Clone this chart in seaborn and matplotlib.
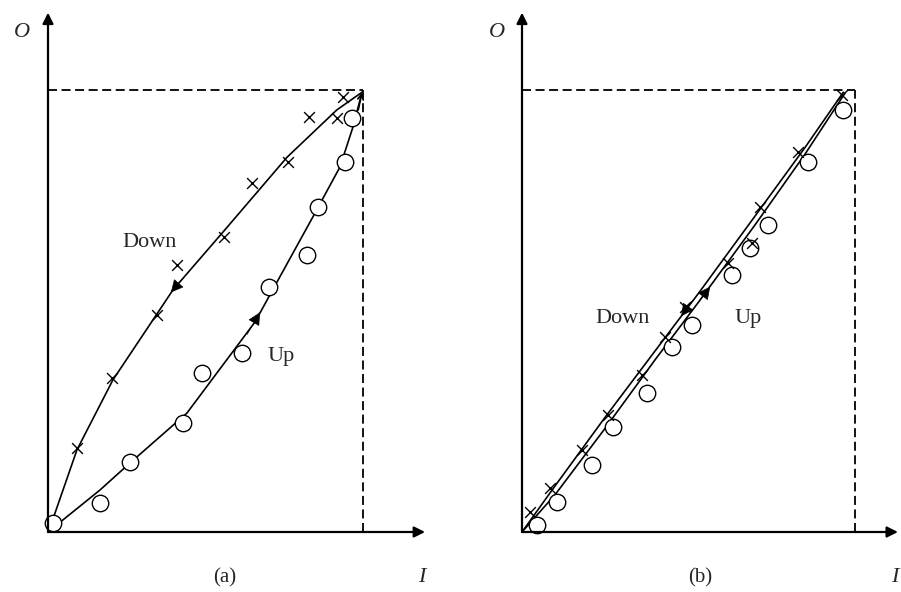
import numpy as np
import pandas as pd
import matplotlib
matplotlib.use("Agg")
import matplotlib.pyplot as plt
import seaborn as sns

# ---- panel (a): clear hysteresis ----
a_up_x = [0.016, 0.165, 0.260, 0.429, 0.489, 0.616, 0.702, 0.822, 0.857, 0.943, 0.965]
a_up_y = [0.020, 0.066, 0.158, 0.247, 0.360, 0.405, 0.554, 0.627, 0.735, 0.837, 0.937]
a_down_x = [0.937, 0.917, 0.829, 0.762, 0.648, 0.559, 0.410, 0.346, 0.203, 0.092]
a_down_y = [0.984, 0.937, 0.939, 0.837, 0.790, 0.667, 0.604, 0.491, 0.348, 0.190]
# fitted curves as drawn
a_upline_x = [0.0, 0.165, 0.260, 0.441, 0.657, 0.841, 0.927, 0.968, 0.997]
a_upline_y = [0.0, 0.095, 0.156, 0.269, 0.475, 0.713, 0.826, 0.916, 0.995]
a_downline_x = [0.997, 0.917, 0.759, 0.556, 0.397, 0.206, 0.092, 0.016, 0.0]
a_downline_y = [0.995, 0.955, 0.848, 0.679, 0.548, 0.344, 0.186, 0.030, 0.0]

# ---- panel (b): almost no hysteresis ----
b_up_x = [0.045, 0.105, 0.210, 0.273, 0.375, 0.450, 0.511, 0.631, 0.685, 0.739, 0.859, 0.964]
b_up_y = [0.016, 0.068, 0.152, 0.238, 0.314, 0.419, 0.468, 0.581, 0.643, 0.695, 0.837, 0.955]
b_down_x = [0.024, 0.084, 0.180, 0.258, 0.360, 0.429, 0.489, 0.619, 0.691, 0.715, 0.829, 0.961]
b_down_y = [0.045, 0.100, 0.186, 0.265, 0.355, 0.441, 0.509, 0.609, 0.654, 0.735, 0.860, 0.989]
b_upline_x = [0.0, 0.10, 0.25, 0.40, 0.53, 0.70, 0.85, 0.97]
b_upline_y = [0.0, 0.085, 0.235, 0.39, 0.52, 0.695, 0.855, 0.993]
b_downline_x = [0.965, 0.85, 0.70, 0.53, 0.40, 0.25, 0.10, 0.0]
b_downline_y = [0.995, 0.87, 0.715, 0.54, 0.41, 0.26, 0.105, 0.0]

sns.set_style("white")
plt.rcParams["font.family"] = ["Liberation Serif", "DejaVu Serif"]

fig = plt.figure(figsize=(9.01, 5.92), dpi=100)
W, H = 901, 592
ax_a = fig.add_axes([48 / W, 60 / H, 315 / W, 442 / H])
ax_b = fig.add_axes([522 / W, 60 / H, 333 / W, 442 / H])


def draw_panel(ax, upline, downline, up_pts, down_pts, xtip, tag, labels, arrows, ox, tagx):
    ax.set_xlim(0, 1)
    ax.set_ylim(0, 1)
    ax.axis("off")
    up_df = pd.DataFrame({"x": upline[0], "y": upline[1]})
    dn_df = pd.DataFrame({"x": downline[0], "y": downline[1]})
    sns.lineplot(data=up_df, x="x", y="y", sort=False, estimator=None,
                 color="black", lw=1.2, ax=ax)
    sns.lineplot(data=dn_df, x="x", y="y", sort=False, estimator=None,
                 color="black", lw=1.2, ax=ax)
    sns.scatterplot(x=up_pts[0], y=up_pts[1], marker="o", s=140,
                    facecolor="white", edgecolor="black", linewidth=1.0,
                    ax=ax, zorder=3, clip_on=False)
    sns.scatterplot(x=down_pts[0], y=down_pts[1], marker="x", s=60,
                    color="black", linewidth=1.0, ax=ax, zorder=4, clip_on=False)

    # dashed guide lines to the max point
    ax.plot([0, 1], [1, 1], ls=(0, (5, 2.5)), color="black", lw=1.3, clip_on=False)
    ax.plot([1, 1], [0, 1], ls=(0, (5, 2.5)), color="black", lw=1.3, clip_on=False)

    # axes with arrows
    ax.annotate("", xy=(0, 1.175), xytext=(0, 0), annotation_clip=False,
                arrowprops=dict(arrowstyle="-|>", color="black", lw=1.6,
                                mutation_scale=16, shrinkA=0, shrinkB=0))
    ax.annotate("", xy=(xtip, 0), xytext=(0, 0), annotation_clip=False,
                arrowprops=dict(arrowstyle="-|>", color="black", lw=1.6,
                                mutation_scale=16, shrinkA=0, shrinkB=0))

    # direction arrows on curves
    for tail, tip, style in arrows:
        ax.annotate("", xy=tip, xytext=tail, annotation_clip=False,
                    arrowprops=dict(arrowstyle=style, color="black",
                                    lw=0.5 if style == "-|>" else 1.2,
                                    mutation_scale=20 if style == "-|>" else 10,
                                    shrinkA=0, shrinkB=0))

    ax.text(ox, 1.13, "O", style="italic", fontsize=16, ha="center", va="center")
    ax.text(xtip - 0.01, -0.104, "I", style="italic", fontsize=16, ha="center", va="center")
    ax.text(tagx, -0.104, tag, fontsize=15, ha="center", va="center")
    for txt, pos in labels:
        ax.text(pos[0], pos[1], txt, fontsize=16, ha="center", va="center")


draw_panel(ax_a, (a_upline_x, a_upline_y), (a_downline_x, a_downline_y),
           (a_up_x, a_up_y), (a_down_x, a_down_y), 1.197, "(a)",
           [("Down", (0.324, 0.656)), ("Up", (0.74, 0.396))],
           [((0.632, 0.447), (0.673, 0.497), "-|>"),
            ((0.43, 0.575), (0.39, 0.542), "-|>"),
            ((0.985, 0.955), (0.997, 0.995), "->")],
           -0.083, 0.56)
draw_panel(ax_b, (b_upline_x, b_upline_y), (b_downline_x, b_downline_y),
           (b_up_x, b_up_y), (b_down_x, b_down_y), 1.129, "(b)",
           [("Down", (0.303, 0.484)), ("Up", (0.679, 0.484))],
           [((0.535, 0.525), (0.565, 0.555), "-|>"),
            ((0.51, 0.522), (0.478, 0.488), "-|>")],
           -0.075, 0.535)

fig.savefig("out.png", dpi=100)
